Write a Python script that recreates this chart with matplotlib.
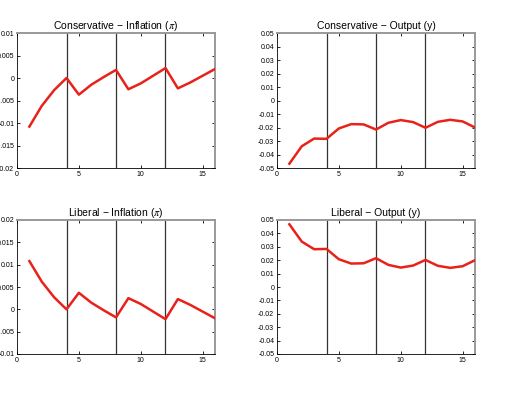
import numpy as np
import matplotlib
matplotlib.use("Agg")
from matplotlib import pyplot as plt

# horizon
periods = list(range(1, 17))

cons_inflation = [-0.0108, -0.0062, -0.0027, 0.0, -0.0037, -0.0015, 0.0002, 0.0018,
                  -0.0025, -0.0012, 0.0005, 0.0022, -0.0023, -0.0010, 0.0005, 0.0020]
cons_output = [-0.0468, -0.0339, -0.0282, -0.0284, -0.0207, -0.0175, -0.0177, -0.0215,
               -0.0165, -0.0145, -0.0160, -0.0202, -0.0158, -0.0143, -0.0155, -0.0200]
lib_inflation = [0.0108, 0.0062, 0.0027, 0.0, 0.0037, 0.0015, -0.0002, -0.0018,
                 0.0025, 0.0012, -0.0005, -0.0022, 0.0023, 0.0010, -0.0005, -0.0020]
lib_output = [0.0468, 0.0339, 0.0282, 0.0284, 0.0207, 0.0175, 0.0177, 0.0215,
              0.0165, 0.0145, 0.0160, 0.0202, 0.0158, 0.0143, 0.0155, 0.0200]

breaks = [4, 8, 12]
x_ticks = [0, 5, 10, 15]

titles = ["Conservative \u2212 Inflation ($\\pi$)", "Conservative \u2212 Output (y)",
          "Liberal \u2212 Inflation ($\\pi$)", "Liberal \u2212 Output (y)"]
series = [cons_inflation, cons_output, lib_inflation, lib_output]
ylims = [(-0.02, 0.01), (-0.05, 0.05), (-0.01, 0.02), (-0.05, 0.05)]
ysteps = [0.005, 0.01, 0.005, 0.01]

plt.rcParams["font.family"] = ["Liberation Sans", "DejaVu Sans"]
plt.rcParams["mathtext.fontset"] = "stix"

fig = plt.figure(figsize=(5.3, 3.98), dpi=100)

W, H = 530, 398
boxes = [
    (17, 33, 215, 168),
    (277, 33, 475, 168),
    (17, 220, 215, 354),
    (277, 220, 475, 354),
]


def fmt(v):
    if abs(v) < 1e-12:
        return "0"
    s = f"{v:.3f}".rstrip("0")
    return s


for i in range(4):
    x0, y0, x1, y1 = boxes[i]
    ax = fig.add_axes([x0 / W, 1 - y1 / H, (x1 - x0) / W, (y1 - y0) / H])
    lo, hi = ylims[i]
    for b in breaks:
        ax.axvline(b, color="#333333", lw=0.9, zorder=1)
    ax.plot(periods, series[i], color="#e8221a", lw=1.8, zorder=3)
    ax.set_xlim(0, 16)
    ax.set_ylim(lo, hi)
    yt = np.round(np.arange(lo, hi + ysteps[i] / 2, ysteps[i]), 4)
    ax.set_yticks(yt)
    ax.set_yticklabels([fmt(v) for v in yt])
    ax.set_xticks(x_ticks)
    ax.tick_params(direction="in", length=2.5, width=0.6, labelsize=5,
                   top=True, right=True, pad=2)
    ax.set_title(titles[i], fontsize=7.5, pad=3)
    ax.spines["left"].set_linewidth(0.6)
    ax.spines["bottom"].set_linewidth(0.6)
    for s in ["top", "right"]:
        ax.spines[s].set_color("#999999")
        ax.spines[s].set_linewidth(1.4)

fig.savefig("out.png", dpi=100)
